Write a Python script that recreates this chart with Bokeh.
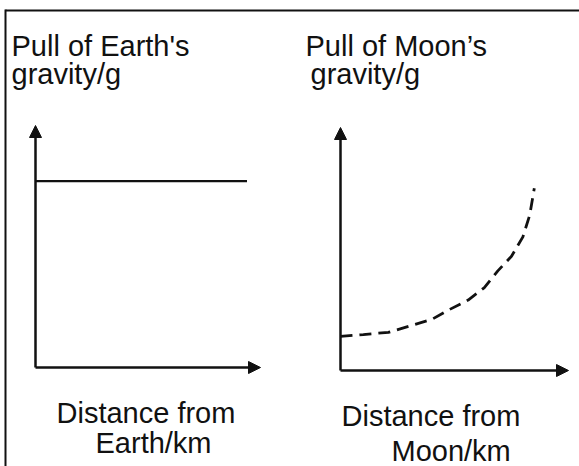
from bokeh.plotting import figure
from bokeh.models import Range1d, Label, Arrow, NormalHead
from bokeh.embed import file_html
from bokeh.resources import INLINE

# Left sketch: pull of Earth's gravity against distance from Earth (flat line)
earth_distance = [0.0, 0.94]
earth_pull = [0.77, 0.77]

# Right sketch: pull of Moon's gravity against distance from Moon (dashed curve)
moon_distance = [0.0, 0.10, 0.21, 0.31, 0.40, 0.47, 0.56, 0.63, 0.69, 0.75, 0.80, 0.83, 0.85]
moon_pull = [0.14, 0.148, 0.157, 0.185, 0.21, 0.247, 0.29, 0.34, 0.41, 0.47, 0.55, 0.64, 0.75]

# Axis titles (each entry is one text line)
earth_y_title = ["Pull of Earth's", "gravity/g"]
earth_x_title = ["Distance from", "Earth/km"]
moon_y_title = ["Pull of Moon\u2019s", "gravity/g"]
moon_x_title = ["Distance from", "Moon/km"]

INK = "#111111"
FONT = "Liberation Sans"
FONT_SIZE = "29px"
WIDTH, HEIGHT = 579, 466

# One canvas; the frame fills all of it and each sketch gets its own pair of
# ranges, so both graphs have axes that run from 0 to 1.
p = figure(width=WIDTH, height=HEIGHT, title=None,
           x_axis_type=None, y_axis_type=None,
           output_backend="svg", toolbar_location=None, min_border=0)
p.grid.visible = False
p.outline_line_color = None
p.background_fill_color = "white"
p.border_fill_color = "white"


class Panel:
    """Axes whose origin sits at canvas pixel (ox, oy), lx / ly pixels long."""

    def __init__(self, name, ox, oy, lx, ly):
        self.ox, self.oy, self.lx, self.ly = ox, oy, lx, ly
        xr = Range1d(-ox / lx, (WIDTH - ox) / lx)
        yr = Range1d(-(HEIGHT - oy) / ly, oy / ly)
        if name == "default":
            p.x_range, p.y_range = xr, yr
        else:
            p.extra_x_ranges[name] = xr
            p.extra_y_ranges[name] = yr
        self.names = dict(x_range_name=name, y_range_name=name)
        head = dict(size=12, fill_color=INK, line_color=INK, line_width=1)
        # axes drawn as arrows from the origin
        p.add_layout(Arrow(end=NormalHead(**head), x_start=0, y_start=0,
                           x_end=0, y_end=1, line_color=INK, line_width=2.5,
                           **self.names))
        p.add_layout(Arrow(end=NormalHead(**head), x_start=0, y_start=0,
                           x_end=1, y_end=0, line_color=INK, line_width=2.5,
                           **self.names))

    def line(self, xs, ys, **kw):
        p.line(xs, ys, line_color=INK, **self.names, **kw)

    def at(self, px, py):
        """Canvas pixel -> data position (for placing texts and the box)."""
        return (px - self.ox) / self.lx, (self.oy - py) / self.ly

    def text(self, lines, anchors):
        for txt, (px, py) in zip(lines, anchors):
            x, y = self.at(px, py)
            p.add_layout(Label(x=x, y=y, text=txt, text_font=FONT,
                               text_font_size=FONT_SIZE, text_color=INK,
                               text_align="left", text_baseline="alphabetic",
                               **self.names))

    def rule(self, p0, p1):
        x0, y0 = self.at(*p0)
        x1, y1 = self.at(*p1)
        p.segment(x0=[x0], y0=[y0], x1=[x1], y1=[y1], line_color=INK,
                  line_width=2, **self.names)


earth = Panel("default", ox=35, oy=367, lx=225, ly=242)
earth.line(earth_distance, earth_pull, line_width=2.2)
earth.text(earth_y_title, [(11, 45), (11, 73)])
earth.text(earth_x_title, [(56, 412), (95, 442)])

moon = Panel("moon", ox=340, oy=370, lx=228, ly=243)
moon.line(moon_distance, moon_pull, line_width=2.8, line_dash="12 7")
moon.text(moon_y_title, [(305, 45), (310, 73)])
moon.text(moon_x_title, [(341, 415), (391, 450)])

# surrounding box: left and top edges
earth.rule((5, 9), (5, 470))
earth.rule((5, 10), (585, 10))

open("out.html", "w").write(file_html(p, INLINE))
